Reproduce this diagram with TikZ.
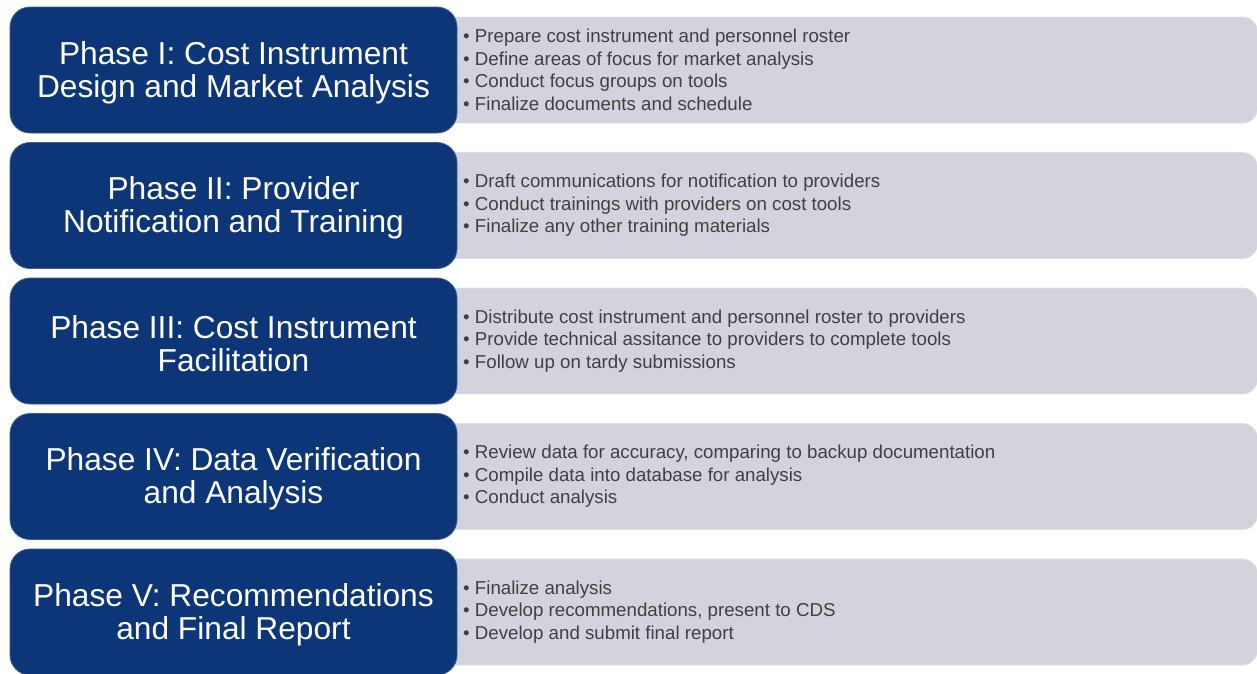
\documentclass[tikz,border=0pt]{standalone}
\usepackage{fontspec}
\setmainfont{Liberation Sans}
\definecolor{phaseblue}{RGB}{13,54,120}
\definecolor{panelgray}{RGB}{210,211,221}
\definecolor{paneledge}{RGB}{222,223,230}
\definecolor{bullettext}{RGB}{64,64,64}
\tikzset{
  phasebox/.style={draw=phaseblue!80!white, line width=0.8pt, fill=phaseblue, rounded corners=20pt, minimum width=447pt, minimum height=126pt, inner sep=0pt},
  panelbox/.style={draw=paneledge, line width=0.8pt, fill=panelgray, rounded corners=15pt, minimum width=817pt, minimum height=106pt, inner sep=0pt},
  phasetitle/.style={text=white, align=center, font=\fontsize{31.7pt}{33pt}\selectfont, inner sep=0pt, yshift=-2.5pt},
  bullets/.style={text=bullettext, align=left, anchor=west, font=\fontsize{18.7pt}{22.6pt}\selectfont, inner sep=0pt}
}
\begin{document}
\begin{tikzpicture}[x=1pt,y=-1pt]
\useasboundingbox (0,0) rectangle (1257,673);
% row 1
\node[panelbox] (g0) at (849,70) {};
\node[phasebox] (b0) at (233.5,70) {};
\node[phasetitle] (t0) at (233.5,70) {Phase I: Cost Instrument\\Design and Market Analysis};
\node[bullets] (l0) at (463,70) {• Prepare cost instrument and personnel roster\\• Define areas of focus for market analysis\\• Conduct focus groups on tools\\• Finalize documents and schedule};
% row 2
\node[panelbox] (g1) at (849,205.5) {};
\node[phasebox] (b1) at (233.5,205.5) {};
\node[phasetitle] (t1) at (233.5,205.5) {Phase II: Provider\\Notification and Training};
\node[bullets] (l1) at (463,205.5) {• Draft communications for notification to providers\\• Conduct trainings with providers on cost tools\\• Finalize any other training materials};
% row 3
\node[panelbox] (g2) at (849,341) {};
\node[phasebox] (b2) at (233.5,341) {};
\node[phasetitle] (t2) at (233.5,341) {Phase III: Cost Instrument\\Facilitation};
\node[bullets] (l2) at (463,341) {• Distribute cost instrument and personnel roster to providers\\• Provide technical assitance to providers to complete tools\\• Follow up on tardy submissions};
% row 4
\node[panelbox] (g3) at (849,476.5) {};
\node[phasebox] (b3) at (233.5,476.5) {};
\node[phasetitle] (t3) at (233.5,476.5) {Phase IV: Data Verification\\and Analysis};
\node[bullets] (l3) at (463,476.5) {• Review data for accuracy, comparing to backup documentation\\• Compile data into database for analysis\\• Conduct analysis};
% row 5
\node[panelbox] (g4) at (849,612) {};
\node[phasebox] (b4) at (233.5,612) {};
\node[phasetitle] (t4) at (233.5,612) {Phase V: Recommendations\\and Final Report};
\node[bullets] (l4) at (463,612) {• Finalize analysis\\• Develop recommendations, present to CDS\\• Develop and submit final report};
\end{tikzpicture}
\end{document}
